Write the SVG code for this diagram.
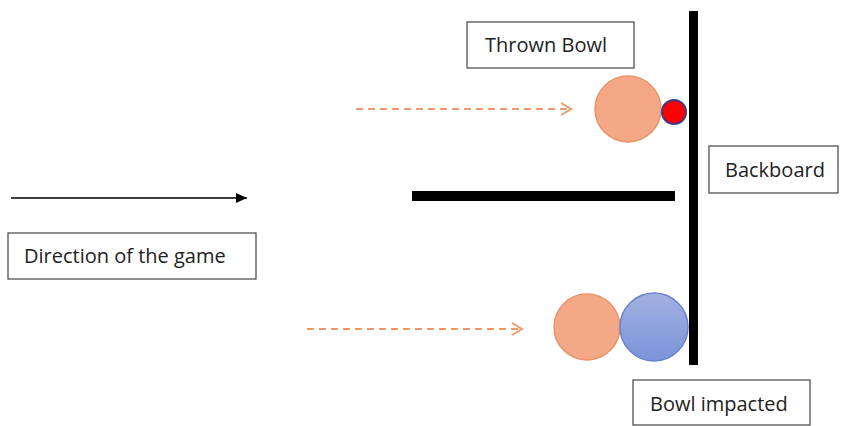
<svg xmlns="http://www.w3.org/2000/svg" width="841" height="426" viewBox="0 0 841 426">
<style>
.box{fill:#fff;stroke:#444;stroke-width:1.2}
.lbl{font-family:"Open Sans","Liberation Sans",sans-serif;font-size:20px;fill:#222}
.dash{stroke:#ed9a68;stroke-width:1.8;stroke-dasharray:7,5;fill:none}
.orange{fill:#f4a886;stroke:#e8946c;stroke-width:1.5}
</style>
<defs>
<marker id="chev" markerWidth="14" markerHeight="14" refX="12" refY="7" orient="auto" markerUnits="userSpaceOnUse">
<path d="M2,1 L12,7 L2,13" fill="none" stroke="#ed9a68" stroke-width="2"/>
</marker>
<marker id="tri" markerWidth="12" markerHeight="12" refX="11" refY="6" orient="auto" markerUnits="userSpaceOnUse">
<path d="M0,1 L11,6 L0,11 Z" fill="#000"/>
</marker>
<linearGradient id="blueg" x1="0" y1="0" x2="0" y2="1">
<stop offset="0" stop-color="#a3b1e0"/><stop offset="1" stop-color="#7b93db"/>
</linearGradient>
</defs>
<g id="connectors">
<line x1="11" y1="198" x2="247" y2="198" stroke="#000" stroke-width="1.5" marker-end="url(#tri)"/>
<line class="dash" x1="356" y1="109" x2="571" y2="109" marker-end="url(#chev)"/>
<line class="dash" x1="307" y1="329" x2="522" y2="329" marker-end="url(#chev)"/>
</g>
<g id="backboard-bar"><rect x="689" y="11" width="9" height="354" fill="#000"/></g>
<g id="divider"><rect x="412" y="191" width="263" height="10" fill="#000"/></g>
<g id="thrown-ball"><circle class="orange" cx="628" cy="109" r="33"/></g>
<g id="jack"><circle cx="674" cy="112" r="12" fill="#f00" stroke="#3a3a8c" stroke-width="2"/></g>
<g id="impact-ball-orange"><circle class="orange" cx="587" cy="327" r="33"/></g>
<g id="impact-ball-blue"><circle cx="654" cy="327" r="34" fill="url(#blueg)" stroke="#6a82c8" stroke-width="1.5"/></g>
<g id="thrown-bowl-label"><rect class="box" x="467" y="22" width="167" height="46"/><text class="lbl" x="546" y="52" text-anchor="middle">Thrown Bowl</text></g>
<g id="backboard-label"><rect class="box" x="709" y="146" width="129" height="47"/><text class="lbl" x="725" y="177">Backboard</text></g>
<g id="direction-label"><rect class="box" x="8" y="233" width="248" height="46"/><text class="lbl" x="24" y="263">Direction of the game</text></g>
<g id="impacted-label"><rect class="box" x="633" y="380" width="177" height="45"/><text class="lbl" x="650" y="411">Bowl impacted</text></g>
</svg>
